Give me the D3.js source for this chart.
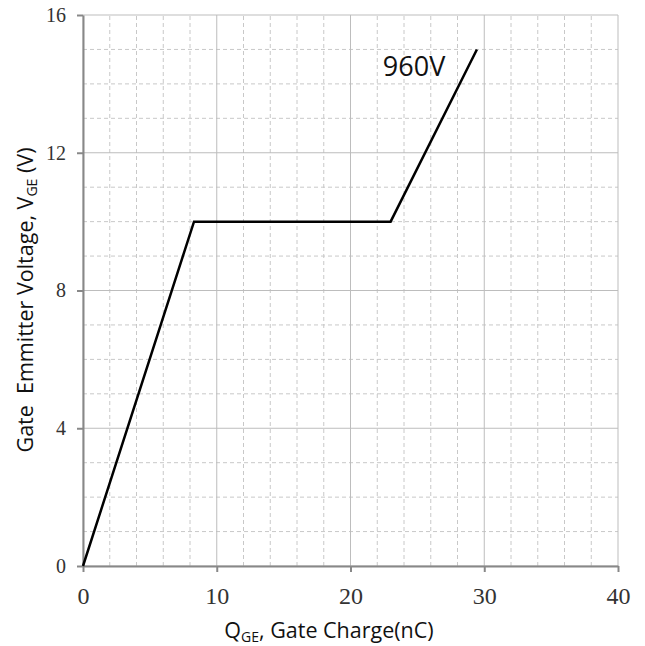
<!DOCTYPE html>
<html>
<head>
<meta charset="utf-8">
<script src="https://cdn.jsdelivr.net/npm/d3@7"></script>
<style>
  body { margin: 0; background: #fff; }
  .tick-label { font-family: "Liberation Serif", "DejaVu Serif", serif; fill: #333; }
  .title { font-family: "Open Sans", "Noto Sans", sans-serif; fill: #111; }
</style>
</head>
<body>
<div id="chart"></div>
<script>
// curva de carga de gate
var charge = [0, 8.3, 23, 29.45];
var voltage = [0, 10, 10, 15];
var seriesLabel = "960V";
var labelAt = [24.75, 14.5];

var xTicks = [0, 10, 20, 30, 40];
var yTicks = [0, 4, 8, 12, 16];
var xMinor = d3.range(0, 41, 2);
var yMinor = d3.range(0, 17, 1);

var width = 645, height = 646;
var margin = { left: 83, right: 27, top: 15, bottom: 80 };

const svg = d3.select("#chart").append("svg")
	.attr("width", width)
	.attr("height", height);

const x = d3.scaleLinear().domain([0, 40]).range([margin.left, width - margin.right]);
const y = d3.scaleLinear().domain([0, 16]).range([height - margin.bottom, margin.top]);

// grade secundária (tracejada)
svg.append("g").selectAll("line")
	.data(xMinor.filter(d => d % 10 !== 0))
	.enter().append("line")
	.attr("x1", d => x(d)).attr("x2", d => x(d))
	.attr("y1", y(0)).attr("y2", y(16))
	.style("stroke", "#c8c8c8").style("stroke-dasharray", "4,3");

svg.append("g").selectAll("line")
	.data(yMinor.filter(d => d % 4 !== 0))
	.enter().append("line")
	.attr("x1", x(0)).attr("x2", x(40))
	.attr("y1", d => y(d)).attr("y2", d => y(d))
	.style("stroke", "#c8c8c8").style("stroke-dasharray", "4,3");

// grade principal
svg.append("g").selectAll("line")
	.data(xTicks)
	.enter().append("line")
	.attr("x1", d => x(d)).attr("x2", d => x(d))
	.attr("y1", y(0)).attr("y2", y(16))
	.style("stroke", "#bdbdbd");

svg.append("g").selectAll("line")
	.data(yTicks)
	.enter().append("line")
	.attr("x1", x(0)).attr("x2", x(40))
	.attr("y1", d => y(d)).attr("y2", d => y(d))
	.style("stroke", "#bdbdbd");

// eixos
const xAxis = svg.append("g")
	.attr("transform", `translate(0,${y(0)})`)
	.call(d3.axisBottom(x).tickValues(xTicks).tickSize(6).tickSizeOuter(0).tickPadding(15));
const yAxis = svg.append("g")
	.attr("transform", `translate(${x(0)},0)`)
	.call(d3.axisLeft(y).tickValues(yTicks).tickSize(6).tickSizeOuter(0).tickPadding(11));

[xAxis, yAxis].forEach(a => {
	a.select(".domain").style("stroke", "#888").style("stroke-width", 2);
	a.selectAll(".tick line").style("stroke", "#888").style("stroke-width", 2);
	a.selectAll(".tick text").attr("class", "tick-label").attr("fill", null);
});
xAxis.selectAll(".tick text").style("font-size", "24px");
yAxis.selectAll(".tick text").style("font-size", "20px");

// curva
const pontos = charge.map((c, i) => [c, voltage[i]]);
svg.append("path")
	.datum(pontos)
	.attr("d", d3.line().x(d => x(d[0])).y(d => y(d[1])))
	.style("fill", "none")
	.style("stroke", "#000")
	.style("stroke-width", 2.5);

svg.append("text")
	.attr("class", "title")
	.attr("x", x(labelAt[0]))
	.attr("y", y(labelAt[1]))
	.attr("dy", "0.35em")
	.attr("text-anchor", "middle")
	.style("font-size", "27px")
	.text(seriesLabel);

// títulos dos eixos
const xt = svg.append("text")
	.attr("class", "title")
	.attr("x", 329)
	.attr("y", 638)
	.attr("text-anchor", "middle")
	.style("font-size", "21.5px");
xt.append("tspan").text("Q");
xt.append("tspan").attr("dy", 4).style("font-size", "14px").text("GE");
xt.append("tspan").attr("dy", -4).text(", Gate Charge(nC)");

const yt = svg.append("text")
	.attr("class", "title")
	.attr("transform", `translate(33,300) rotate(-90)`)
	.attr("text-anchor", "middle")
	.style("font-size", "21.5px")
	.style("white-space", "pre");
yt.append("tspan").text("Gate  Emmitter Voltage, V");
yt.append("tspan").attr("dy", 4).style("font-size", "14px").text("GE");
yt.append("tspan").attr("dy", -4).text(" (V)");
</script>
</body>
</html>
